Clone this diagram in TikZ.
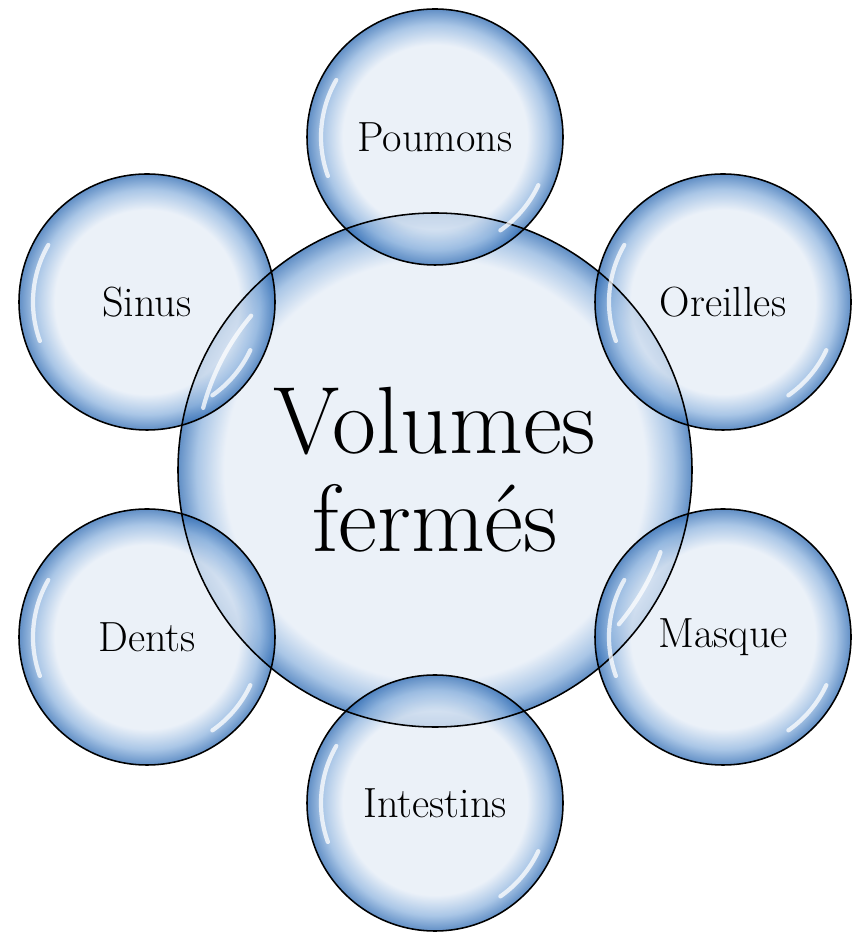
\documentclass[tikz,border=0pt]{standalone}
\usepackage{fontspec}
\usepackage{xcolor}
\usepackage{tikz}

\definecolor{bublight}{HTML}{E4ECF6}
\definecolor{bubmid}{HTML}{8DB3DE}
\definecolor{bubedge}{HTML}{2C69B2}
\pgfdeclareradialshading{bubble}{\pgfpoint{0bp}{0bp}}{color(0bp)=(bublight); color(18bp)=(bublight); color(22bp)=(bubmid); color(25bp)=(bubedge); color(50bp)=(bubedge)}
\pgfdeclareradialshading{bigbubble}{\pgfpoint{0bp}{0bp}}{color(0bp)=(bublight); color(20.5bp)=(bublight); color(23.2bp)=(bubmid); color(25bp)=(bubedge); color(50bp)=(bubedge)}

\begin{document}
\begin{tikzpicture}[
    bub/.style={circle, inner sep=0pt, minimum size=6.4cm, shading=bubble,
        fill opacity=0.75, text opacity=1, font=\fontsize{30}{32}\selectfont},
    bigbub/.style={bub, minimum size=12.85cm, shading=bigbubble, align=center,
        font=\fontsize{68}{70}\selectfont},
    ring/.style={draw=black, line width=1.1pt},
    glint/.style={white, line width=3pt, line cap=round, opacity=0.75}]
        \useasboundingbox (0,0) rectangle (21.425,23.325);

        \node[bigbub] (c) at (10.875,11.575) {Volumes\\fermés};

        \node[bub] (s1) at (10.875,19.9) {Poumons};
        \node[bub] (s2) at (18.075,15.775) {Oreilles};
        \node[bub] (s3) at (18.075,7.4) {Masque};
        \node[bub] (s4) at (10.875,3.25) {Intestins};
        \node[bub] (s5) at (3.675,7.4) {Dents};
        \node[bub] (s6) at (3.675,15.775) {Sinus};

        % contours
        \draw[ring] (c) circle[radius=6.425];
        \foreach \n in {s1,s2,s3,s4,s5,s6}
            \draw[ring] (\n) circle[radius=3.2];

        % reflets
        \foreach \n in {s1,s2,s3,s4,s5,s6} {
            \draw[glint] (\n.center) ++(150:2.85) arc[start angle=150, end angle=200, radius=2.85];
            \draw[glint] (\n.center) ++(-25:2.85) arc[start angle=-25, end angle=-55, radius=2.85];
        }
        \draw[glint] (c.center) ++(140:6.0) arc[start angle=140, end angle=165, radius=6.0];
        \draw[glint] (c.center) ++(-20:6.0) arc[start angle=-20, end angle=-40, radius=6.0];
    \end{tikzpicture}
\end{document}
